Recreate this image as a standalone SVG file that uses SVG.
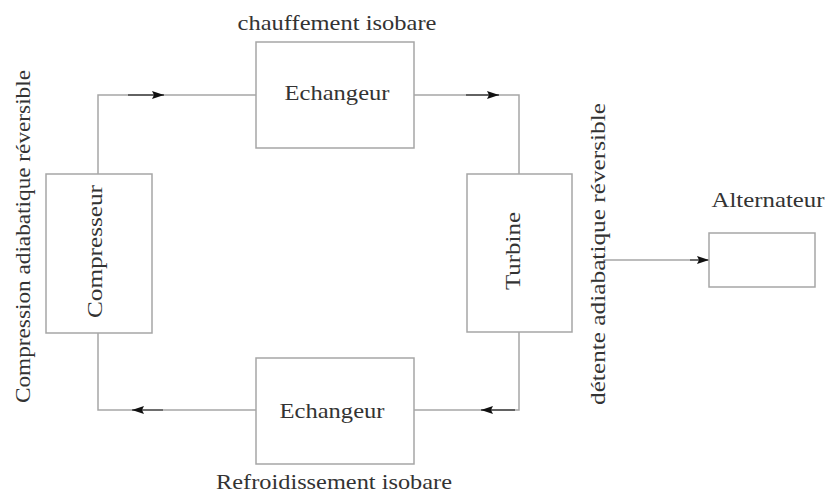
<svg xmlns="http://www.w3.org/2000/svg" width="827" height="494" viewBox="0 0 827 494">
<defs>
<style>
.box{fill:#fff;stroke:#a6a6a6;stroke-width:1.5}
.wire{fill:none;stroke:#a6a6a6;stroke-width:1.5}
.dark{fill:none;stroke:#444;stroke-width:1.3}
.t{font-family:"Liberation Serif","DejaVu Serif","Times New Roman",serif;font-size:21px;fill:#333}
</style>
<marker id="ah" viewBox="0 0 12 8" refX="12" refY="4" markerWidth="12" markerHeight="8" markerUnits="userSpaceOnUse" orient="auto">
<path d="M0,0 L12,4 L0,8 L2,4 Z" fill="#111"/>
</marker>
</defs>
<rect width="827" height="494" fill="#fff"/>
<g id="connectors">
<polyline class="wire" points="98,174 98,95 256,95"/>
<polyline class="wire" points="414,95 519,95 519,174"/>
<polyline class="wire" points="519,332 519,410 414,410"/>
<polyline class="wire" points="256,410 98,410 98,333"/>
<line class="wire" x1="603" y1="260" x2="700" y2="260"/>
<line class="dark" x1="128" y1="95" x2="164" y2="95" marker-end="url(#ah)"/>
<line class="dark" x1="466" y1="95" x2="499" y2="95" marker-end="url(#ah)"/>
<line class="dark" x1="515" y1="410" x2="481" y2="410" marker-end="url(#ah)"/>
<line class="dark" x1="163" y1="410" x2="132" y2="410" marker-end="url(#ah)"/>
<line class="dark" x1="690" y1="260" x2="709" y2="260" marker-end="url(#ah)"/>
</g>
<g id="echangeur-haut">
<rect class="box" x="256" y="42" width="158" height="106"/>
<text class="t" font-family="Liberation Serif, serif" x="337" y="100" text-anchor="middle" textLength="105" lengthAdjust="spacingAndGlyphs">Echangeur</text>
<text class="t" font-family="Liberation Serif, serif" x="337" y="30" text-anchor="middle" textLength="199" lengthAdjust="spacingAndGlyphs">chauffement isobare</text>
</g>
<g id="compresseur">
<rect class="box" x="46" y="174" width="106" height="159"/>
<text class="t" font-family="Liberation Serif, serif" transform="translate(102,251.5) rotate(-90)" text-anchor="middle" textLength="133" lengthAdjust="spacingAndGlyphs">Compresseur</text>
<text class="t" font-family="Liberation Serif, serif" transform="translate(30,236.5) rotate(-90)" text-anchor="middle" textLength="333" lengthAdjust="spacingAndGlyphs">Compression adiabatique réversible</text>
</g>
<g id="turbine">
<rect class="box" x="467" y="174" width="105" height="158"/>
<text class="t" font-family="Liberation Serif, serif" transform="translate(520,251) rotate(-90)" text-anchor="middle" textLength="78" lengthAdjust="spacingAndGlyphs">Turbine</text>
<text class="t" font-family="Liberation Serif, serif" transform="translate(605,254) rotate(-90)" text-anchor="middle" textLength="302" lengthAdjust="spacingAndGlyphs">détente adiabatique réversible</text>
</g>
<g id="echangeur-bas">
<rect class="box" x="256" y="358" width="158" height="106"/>
<text class="t" font-family="Liberation Serif, serif" x="332" y="418" text-anchor="middle" textLength="105" lengthAdjust="spacingAndGlyphs">Echangeur</text>
<text class="t" font-family="Liberation Serif, serif" x="334" y="489" text-anchor="middle" textLength="236" lengthAdjust="spacingAndGlyphs">Refroidissement isobare</text>
</g>
<g id="alternateur">
<rect class="box" x="709" y="233" width="106" height="54"/>
<text class="t" font-family="Liberation Serif, serif" x="768" y="207" text-anchor="middle" textLength="113" lengthAdjust="spacingAndGlyphs">Alternateur</text>
</g>
</svg>
